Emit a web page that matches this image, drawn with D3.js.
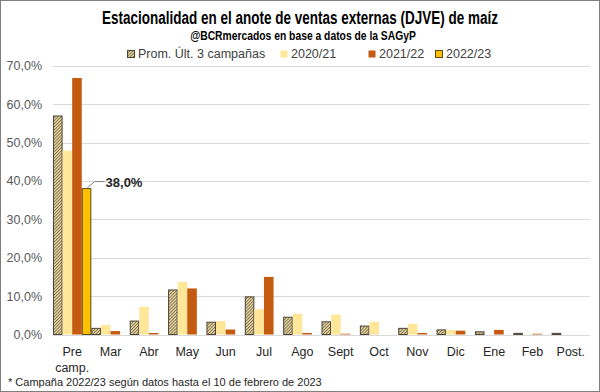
<!DOCTYPE html>
<html>
<head>
<meta charset="utf-8">
<script src="https://cdn.jsdelivr.net/npm/d3@7"></script>
<style>
body{margin:0;background:#fff;}
svg{display:block;font-family:"Liberation Sans",Arial,sans-serif;}
</style>
</head>
<body>
<svg id="chart" width="600" height="392"></svg>
<script>
// data (percent)
var meses=["Pre camp.","Mar","Abr","May","Jun","Jul","Ago","Sept","Oct","Nov","Dic","Ene","Feb","Post."];
var prom=[56.9,1.6,3.5,11.6,3.2,9.8,4.5,3.3,2.2,1.6,1.2,0.7,0.3,0.3];
var c2021=[47.9,2.5,7.2,13.7,3.5,6.6,5.4,5.2,3.3,2.8,1.1,0,0.1,0];
var c2122=[66.8,0.9,0.4,12.0,1.3,15.0,0.4,0.2,0,0.4,1.0,1.2,0.2,0];
var c2223=[38.0,null,null,null,null,null,null,null,null,null,null,null,null,null];
var yTicks=[0,10,20,30,40,50,60,70];
var serieNames=["Prom. Últ. 3 campañas","2020/21","2021/22","2022/23"];

var svg=d3.select("#chart");
var W=600,H=392;

// fine hatched pattern for the average
var defs=svg.append("defs");
var pat=defs.append("pattern").attr("id","hatch").attr("patternUnits","userSpaceOnUse")
  .attr("width",2.2).attr("height",2.2).attr("patternTransform","rotate(45)");
pat.append("rect").attr("width",2.2).attr("height",2.2).attr("fill","#e8d9a6");
pat.append("rect").attr("width",0.9).attr("height",2.2).attr("fill","#7d6d48");

var colors=["url(#hatch)","#ffe699","#c55a11","#ffc000"];
var strokes=["#4d4537","none","none","#5a4a1a"];
var series=[prom,c2021,c2122,c2223];

// outer frame
svg.append("rect").attr("x",0.5).attr("y",0.5).attr("width",W-1).attr("height",H-1)
  .attr("fill","#fff").attr("stroke","#7f7f7f");

var x=d3.scaleBand().domain(meses).range([53,590]).paddingInner(0).paddingOuter(0);
var xs=d3.scaleBand().domain([0,1,2,3]).range([0,x.bandwidth()]);
var y=d3.scaleLinear().domain([0,70]).range([334.5,65.7]);

// gridlines
svg.append("g").selectAll("line").data(yTicks).enter().append("line")
  .attr("x1",53).attr("x2",590)
  .attr("y1",function(d){return Math.round(y(d))+0.5;})
  .attr("y2",function(d){return Math.round(y(d))+0.5;})
  .attr("stroke","#d9d9d9").attr("stroke-width",1);

// y axis labels
svg.append("g").selectAll("text").data(yTicks).enter().append("text")
  .attr("x",42).attr("y",function(d){return y(d)+4.5;})
  .attr("text-anchor","end").attr("font-size",12.5).attr("fill","#595959")
  .text(function(d){return d.toFixed(1).replace(".",",")+"%";});

// bars
series.forEach(function(s,i){
  svg.append("g").selectAll("rect").data(s.map(function(v,j){return {m:meses[j],v:v};})
    .filter(function(d){return d.v!=null && d.v>0;}))
    .enter().append("rect")
    .attr("x",function(d){return x(d.m)+xs(i)+(strokes[i]!="none"?0.5:0);})
    .attr("y",function(d){return y(d.v);})
    .attr("width",xs.bandwidth()-(strokes[i]!="none"?1:0))
    .attr("height",function(d){return y(0)-y(d.v);})
    .attr("fill",colors[i]).attr("stroke",strokes[i]).attr("stroke-width",1);
});

// data label 38,0%
var lx=x(meses[0])+xs(3)+xs.bandwidth()/2, ly=y(c2223[0]);
svg.append("polyline").attr("points",[[lx,ly],[lx+8,ly-7],[lx+18,ly-7]].join(" "))
  .attr("fill","none").attr("stroke","#7f7f7f").attr("stroke-width",1);
svg.append("text").attr("x",lx+19).attr("y",ly-2).attr("font-size",13).attr("font-weight","bold")
  .attr("fill","#262626").text(c2223[0].toFixed(1).replace(".",",")+"%");

// x labels
var xl=svg.append("g").selectAll("text").data(meses).enter().append("text")
  .attr("x",function(d){return x(d)+x.bandwidth()/2;})
  .attr("y",356).attr("text-anchor","middle").attr("font-size",12.5).attr("fill","#262626");
xl.each(function(d){
  var parts=d.split(" ");
  var t=d3.select(this);
  parts.forEach(function(p,k){
    t.append("tspan").attr("x",x(d)+x.bandwidth()/2).attr("dy",k==0?0:16).text(p);
  });
});

// titles: keep the glyph height, squeeze horizontally to the reference width
function squeeze(cx,cy,fs,target,txt){
  var t=svg.append("text").attr("x",0).attr("y",0).attr("text-anchor","middle")
    .attr("font-weight","bold").attr("font-size",fs).attr("fill","#000").text(txt);
  var k=target/t.node().getComputedTextLength();
  t.attr("transform","translate("+cx+","+cy+") scale("+k+",1)");
}
squeeze(300,24,18.5,396,"Estacionalidad en el anote de ventas externas (DJVE) de maíz");
squeeze(303,40,12.5,226,"@BCRmercados en base a datos de la SAGyP");

// legend
var legX=[127,280,368,435];
var lg=svg.append("g").selectAll("g").data(serieNames).enter().append("g")
  .attr("transform",function(d,i){return "translate("+legX[i]+",50)";});
lg.append("rect").attr("x",0.5).attr("y",0.5).attr("width",7).attr("height",7)
  .attr("fill",function(d,i){return colors[i];})
  .attr("stroke",function(d,i){return strokes[i];});
lg.append("text").attr("x",11).attr("y",8).attr("font-size",12.5).attr("fill","#404040")
  .text(function(d){return d;});

// footnote
svg.append("text").attr("x",8).attr("y",386).attr("font-size",11).attr("fill","#262626")
  .text("* Campaña 2022/23 según datos hasta el 10 de febrero de 2023");
</script>
</body>
</html>
